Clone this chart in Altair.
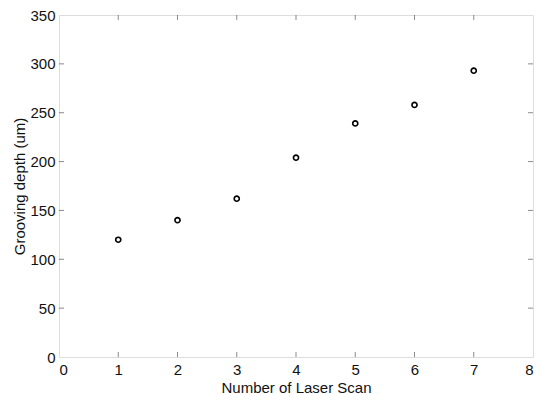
import altair as alt
import pandas as pd

scans = [1, 2, 3, 4, 5, 6, 7]
depth = [120, 140, 162, 204, 239, 258, 293]

x_ticks = [1, 2, 3, 4, 5, 6, 7]
y_ticks = [50, 100, 150, 200, 250, 300]

df = pd.DataFrame({"scan": scans, "depth": depth})
xt = pd.DataFrame({"v": x_ticks})
yt = pd.DataFrame({"v": y_ticks})

FONT = "Liberation Sans"
AX = "#5a5a5a"

xs = alt.Scale(domain=[0, 8], nice=False, zero=False)
ys = alt.Scale(domain=[0, 350], nice=False, zero=False)

points = alt.Chart(df).mark_point(
    shape="circle", filled=False, color="black", strokeWidth=1.6, size=26, opacity=1
).encode(
    x=alt.X("scan:Q", scale=xs, title="Number of Laser Scan",
            axis=alt.Axis(values=[0, 1, 2, 3, 4, 5, 6, 7, 8], format="d", grid=False,
                          domain=False, ticks=False, labelPadding=5, titlePadding=3,
                          labelFontSize=15, titleFontSize=15, labelFont=FONT, titleFont=FONT,
                          titleFontWeight="normal", labelColor="#111", titleColor="#111")),
    y=alt.Y("depth:Q", scale=ys, title="Grooving depth (um)",
            axis=alt.Axis(values=[0, 50, 100, 150, 200, 250, 300, 350], format="d", grid=False,
                          domain=False, ticks=False, labelPadding=4, titlePadding=2,
                          labelFontSize=15, titleFontSize=15, labelFont=FONT, titleFont=FONT,
                          titleFontWeight="normal", labelColor="#111", titleColor="#111")),
)

xtick_bottom = alt.Chart(xt).mark_tick(orient="vertical", size=10, thickness=1, color=AX, clip=True).encode(
    x=alt.X("v:Q", scale=xs), y=alt.datum(0, scale=ys)
)
xtick_top = alt.Chart(xt).mark_tick(orient="vertical", size=10, thickness=1, color=AX, clip=True).encode(
    x=alt.X("v:Q", scale=xs), y=alt.datum(350, scale=ys)
)
ytick_left = alt.Chart(yt).mark_tick(orient="horizontal", size=10, thickness=1, color=AX, clip=True).encode(
    y=alt.Y("v:Q", scale=ys), x=alt.datum(0, scale=xs)
)
ytick_right = alt.Chart(yt).mark_tick(orient="horizontal", size=10, thickness=1, color=AX, clip=True).encode(
    y=alt.Y("v:Q", scale=ys), x=alt.datum(8, scale=xs)
)

chart = alt.layer(points, xtick_bottom, xtick_top, ytick_left, ytick_right).properties(
    width=474, height=342,
    autosize=alt.AutoSizeParams(type="none"),
    padding={"left": 51, "top": 7, "right": 1, "bottom": 37},
).configure_view(
    stroke=AX, strokeWidth=1.2
).configure(background="white")

chart.save("out.html", embed_options={"renderer": "svg", "actions": False})
